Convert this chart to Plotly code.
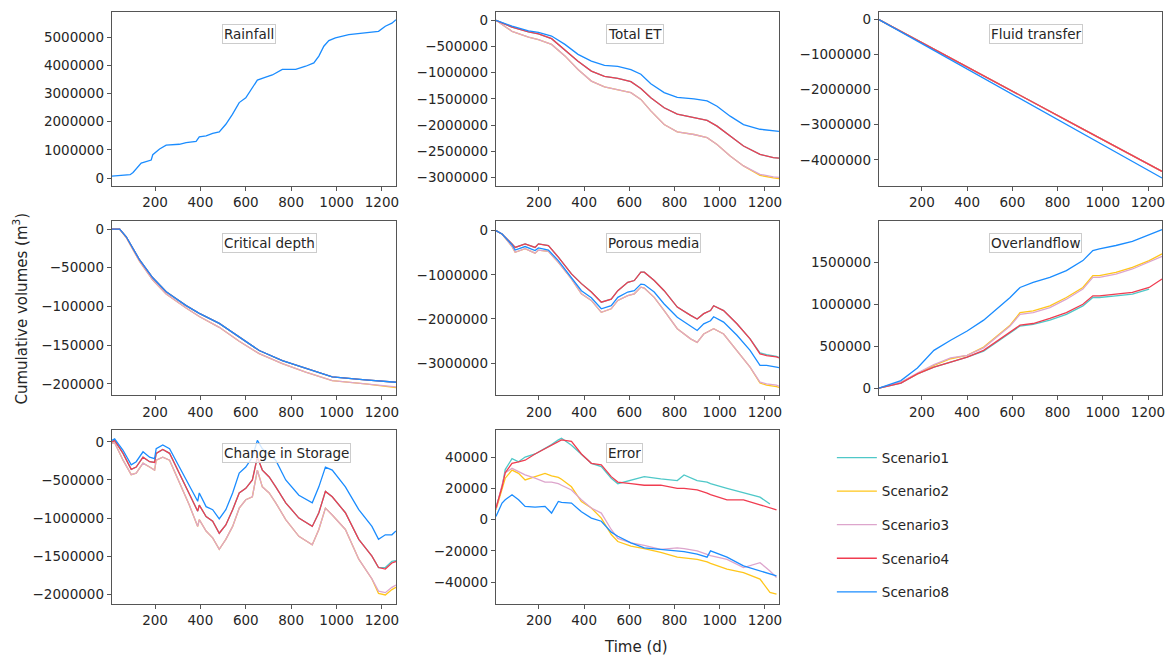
import plotly.graph_objects as go
from plotly.subplots import make_subplots

SCENARIOS = ["Scenario1", "Scenario2", "Scenario3", "Scenario4", "Scenario8"]
COLORS = {
    "Scenario1": "#4FC8C8",
    "Scenario2": "#FFC61A",
    "Scenario3": "#DDA5CC",
    "Scenario4": "#F03C50",
    "Scenario8": "#1A8CFF",
}

# ---------------- Rainfall (same forcing for every scenario) ----------------
rain_days = [10, 50, 90, 103, 139, 183, 190, 220, 249, 307, 337, 381, 395, 425, 454,
             483, 512, 541, 571, 600, 629, 651, 688, 717, 761, 820, 864, 900, 922,
             944, 966, 995, 1054, 1127, 1185, 1215, 1244, 1262]
rain_vol = [70000, 90000, 120000, 200000, 530000, 640000, 830000, 1030000, 1170000,
            1200000, 1260000, 1300000, 1460000, 1500000, 1590000, 1640000, 1910000,
            2260000, 2680000, 2850000, 3200000, 3480000, 3580000, 3660000, 3860000,
            3860000, 3970000, 4090000, 4330000, 4680000, 4880000, 4980000, 5090000,
            5150000, 5210000, 5390000, 5500000, 5620000]

# ---------------- Total ET ----------------
et_days = [10, 81, 154, 198, 256, 315, 373, 432, 490, 549, 607, 651, 695, 754, 812,
           886, 944, 988, 1046, 1105, 1178, 1237, 1262]
et_s1 = [0, -130000, -220000, -260000, -350000, -560000, -780000, -970000, -1070000,
         -1110000, -1170000, -1300000, -1480000, -1670000, -1790000, -1860000,
         -1910000, -2020000, -2210000, -2400000, -2560000, -2620000, -2630000]
et_s2 = [0, -210000, -320000, -370000, -460000, -680000, -940000, -1160000, -1270000,
         -1320000, -1380000, -1510000, -1730000, -1990000, -2130000, -2180000,
         -2240000, -2370000, -2590000, -2780000, -2960000, -3010000, -3020000]
et_s3 = [0, -210000, -320000, -370000, -460000, -680000, -940000, -1160000, -1270000,
         -1320000, -1380000, -1510000, -1730000, -1990000, -2130000, -2180000,
         -2240000, -2370000, -2590000, -2780000, -2940000, -2990000, -3000000]
et_s4 = [0, -130000, -220000, -260000, -350000, -560000, -780000, -970000, -1070000,
         -1110000, -1170000, -1300000, -1480000, -1670000, -1790000, -1860000,
         -1910000, -2020000, -2210000, -2400000, -2560000, -2620000, -2630000]
et_s8 = [0, -110000, -200000, -230000, -300000, -460000, -650000, -780000, -860000,
         -880000, -940000, -1030000, -1210000, -1380000, -1470000, -1500000,
         -1540000, -1640000, -1830000, -1990000, -2080000, -2110000, -2120000]

# ---------------- Fluid transfer ----------------
ft_days = [10, 300, 590, 900, 1262]
ft_s1 = [0, -1010000, -2000000, -3080000, -4330000]
ft_s2 = [0, -1010000, -2000000, -3080000, -4330000]
ft_s3 = [0, -1010000, -2000000, -3080000, -4330000]
ft_s4 = [0, -1010000, -2000000, -3080000, -4330000]
ft_s8 = [0, -1050000, -2090000, -3210000, -4520000]

# ---------------- Critical depth ----------------
cd_days = [10, 44, 73, 132, 190, 249, 337, 395, 483, 571, 659, 761, 864, 981, 1127, 1262]
cd_s1 = [0, 0, -10000, -40000, -63000, -81000, -99000, -109000, -122000, -139000,
         -157000, -170000, -180000, -191000, -195000, -198000]
cd_s2 = [0, 0, -11000, -42000, -66000, -84000, -102000, -113000, -127000, -145000,
         -161000, -174000, -185000, -196000, -200000, -205000]
cd_s3 = [0, 0, -11000, -42000, -66000, -84000, -102000, -113000, -127000, -145000,
         -161000, -174000, -185000, -196000, -200000, -204000]
cd_s4 = [0, 0, -10000, -40000, -63000, -81000, -99000, -109000, -122000, -139000,
         -157000, -170000, -180000, -191000, -195000, -198000]
cd_s8 = [0, 0, -10000, -40000, -63000, -81000, -99000, -109000, -122000, -139000,
         -157000, -170000, -180000, -191000, -195000, -198000]

# ---------------- Porous media ----------------
pm_days = [10, 37, 81, 95, 139, 183, 198, 242, 286, 344, 388, 432, 476, 520, 549, 593,
           622, 651, 666, 710, 754, 812, 871, 900, 929, 959, 973, 1017, 1076, 1134,
           1178, 1207, 1251, 1262]
pm_s1 = [0, -75000, -300000, -380000, -300000, -380000, -300000, -340000, -600000,
         -980000, -1200000, -1390000, -1620000, -1550000, -1360000, -1170000,
         -1130000, -940000, -940000, -1130000, -1360000, -1730000, -1920000,
         -2000000, -1880000, -1810000, -1700000, -1810000, -2110000, -2450000,
         -2770000, -2810000, -2850000, -2870000]
pm_s2 = [0, -80000, -360000, -490000, -410000, -510000, -440000, -470000, -720000,
         -1090000, -1430000, -1580000, -1850000, -1770000, -1580000, -1470000,
         -1430000, -1280000, -1300000, -1510000, -1810000, -2220000, -2450000,
         -2530000, -2340000, -2260000, -2220000, -2340000, -2710000, -3090000,
         -3450000, -3500000, -3530000, -3550000]
pm_s3 = [0, -80000, -360000, -490000, -410000, -510000, -440000, -470000, -720000,
         -1090000, -1430000, -1580000, -1850000, -1770000, -1580000, -1470000,
         -1430000, -1280000, -1300000, -1510000, -1810000, -2220000, -2450000,
         -2530000, -2340000, -2260000, -2220000, -2340000, -2710000, -3090000,
         -3430000, -3470000, -3500000, -3520000]
pm_s4 = [0, -75000, -300000, -380000, -300000, -380000, -300000, -340000, -600000,
         -980000, -1200000, -1390000, -1620000, -1550000, -1360000, -1170000,
         -1130000, -940000, -940000, -1130000, -1360000, -1730000, -1920000,
         -2000000, -1880000, -1810000, -1700000, -1810000, -2110000, -2450000,
         -2790000, -2830000, -2860000, -2880000]
pm_s8 = [0, -75000, -320000, -440000, -360000, -450000, -390000, -440000, -680000,
         -1060000, -1360000, -1520000, -1770000, -1700000, -1510000, -1390000,
         -1360000, -1210000, -1220000, -1390000, -1660000, -1960000, -2150000,
         -2260000, -2110000, -2040000, -1950000, -2070000, -2370000, -2710000,
         -3050000, -3050000, -3090000, -3100000]

# ---------------- Overland flow ----------------
of_days = [10, 107, 180, 253, 327, 400, 473, 546, 590, 634, 692, 766, 839, 912, 956,
           985, 1058, 1131, 1205, 1262]
of_s1 = [0, 60000, 170000, 250000, 310000, 370000, 440000, 580000, 660000, 740000,
         760000, 810000, 880000, 980000, 1080000, 1080000, 1100000, 1120000, 1180000,
         None]
of_s2 = [0, 70000, 170000, 270000, 350000, 390000, 490000, 650000, 750000, 900000,
         920000, 980000, 1080000, 1200000, 1340000, 1340000, 1380000, 1440000,
         1520000, 1600000]
of_s3 = [0, 70000, 180000, 280000, 360000, 390000, 480000, 640000, 740000, 880000,
         900000, 960000, 1060000, 1180000, 1320000, 1320000, 1360000, 1420000,
         1500000, 1570000]
of_s4 = [0, 60000, 170000, 250000, 310000, 370000, 450000, 590000, 670000, 750000,
         770000, 830000, 900000, 1000000, 1100000, 1100000, 1120000, 1140000,
         1200000, 1300000]
of_s8 = [0, 90000, 240000, 450000, 570000, 680000, 810000, 980000, 1080000, 1200000,
         1260000, 1320000, 1400000, 1520000, 1640000, 1660000, 1700000, 1750000,
         1830000, 1890000]

# ---------------- Change in storage ----------------
cs_days = [10, 22, 59, 95, 117, 147, 176, 198, 205, 234, 264, 307, 351, 388, 395, 425,
           454, 483, 512, 542, 571, 600, 629, 651, 673, 703, 732, 776, 834, 893, 922,
           951, 981, 1039, 1098, 1156, 1185, 1215, 1244, 1262]
cs_s1 = [0, 20000, -150000, -360000, -330000, -200000, -260000, -270000, -150000,
         -100000, -150000, -410000, -670000, -910000, -830000, -980000, -1040000,
         -1200000, -1090000, -890000, -670000, -610000, -500000, -200000, -370000,
         -460000, -590000, -800000, -1000000, -1110000, -930000, -650000, -720000,
         -930000, -1280000, -1500000, -1650000, -1650000, -1570000, -1560000]
cs_s2 = [-20000, -10000, -240000, -430000, -410000, -280000, -330000, -370000,
         -240000, -200000, -240000, -520000, -830000, -1110000, -1020000, -1170000,
         -1260000, -1410000, -1280000, -1110000, -870000, -760000, -720000, -370000,
         -590000, -670000, -800000, -1020000, -1240000, -1350000, -1150000, -870000,
         -960000, -1150000, -1540000, -1800000, -1990000, -2010000, -1940000, -1910000]
cs_s3 = [-20000, -10000, -240000, -430000, -410000, -280000, -330000, -370000,
         -240000, -200000, -240000, -520000, -830000, -1110000, -1020000, -1170000,
         -1260000, -1410000, -1280000, -1110000, -870000, -760000, -720000, -370000,
         -590000, -670000, -800000, -1020000, -1240000, -1350000, -1150000, -870000,
         -960000, -1150000, -1540000, -1800000, -1960000, -1980000, -1910000, -1880000]
cs_s4 = [0, 20000, -150000, -360000, -330000, -200000, -260000, -270000, -150000,
         -100000, -150000, -410000, -670000, -910000, -830000, -980000, -1040000,
         -1200000, -1090000, -890000, -670000, -610000, -500000, -200000, -370000,
         -460000, -590000, -800000, -1000000, -1110000, -930000, -650000, -720000,
         -930000, -1280000, -1500000, -1650000, -1670000, -1590000, -1570000]
cs_s8 = [20000, 40000, -110000, -300000, -260000, -130000, -200000, -220000, -90000,
         -40000, -90000, -330000, -570000, -780000, -670000, -850000, -890000,
         -1010000, -890000, -670000, -410000, -330000, -200000, 20000, -90000,
         -170000, -240000, -500000, -700000, -800000, -590000, -330000, -370000,
         -590000, -890000, -1110000, -1280000, -1220000, -1220000, -1170000]

# ---------------- Error ----------------
er_days = [10, 37, 51, 81, 110, 139, 183, 227, 256, 286, 300, 344, 388, 432, 476, 520,
           549, 607, 666, 739, 812, 842, 900, 944, 959, 1032, 1105, 1178, 1222, 1251]
er_s1 = [7400, 21000, 32000, 39000, 37000, 40000, 42000, 45500, 48000, 51000, 52000,
         47600, 42000, 36000, 33900, 26500, 23000, 25000, 27500, 26000, 25000, 28600,
         25000, 24000, 23000, 20000, 17000, 14400, 10000, None]
er_s2 = [6300, 19000, 26500, 31700, 29600, 25400, 27500, 29500, 28000, 27000, 25800,
         21000, 11600, 7400, 1000, -9500, -14000, -17000, -18600, -21000, -24000,
         -24500, -25400, -27000, -28000, -31700, -33900, -38000, -46600, -47600]
er_s3 = [6800, 21000, 30000, 32800, 30700, 28600, 26500, 24000, 24000, 23000, 22000,
         19000, 12700, 7400, 4200, -6300, -12000, -14800, -16500, -19000, -18000,
         -18500, -20000, -22000, -23000, -25400, -30700, -27500, -32800, -37000]
er_s4 = [7400, 21000, 30000, 36000, 37000, 38000, 42000, 45500, 47500, 50000, 51000,
         50000, 42000, 36000, 35000, 27500, 24000, 23000, 22000, 22000, 20000, 20000,
         19000, 17000, 16000, 12700, 12700, 9500, 7500, 6300]
er_s8 = [2000, 10600, 12700, 15900, 12700, 8500, 8000, 8500, 4200, 11600, 11000,
         10600, 5000, 1000, -1000, -8000, -10600, -14800, -18000, -19000, -20000,
         -20500, -22000, -24000, -20000, -24000, -29600, -32800, -35000, -36000]


def tick_labels(values):
    return [("\u2212" + str(-v)) if v < 0 else str(v) for v in values]


# rainfall is identical for all runs, so only the last-drawn curve is shown
panels = [
    ("Rainfall", 1, 1, rain_days, [None, None, None, None, rain_vol],
     [-271000, 5896000], [0, 1000000, 2000000, 3000000, 4000000, 5000000]),
    ("Total ET", 1, 2, et_days, [et_s1, et_s2, et_s3, et_s4, et_s8],
     [-3158000, 159000], [0, -500000, -1000000, -1500000, -2000000, -2500000, -3000000]),
    ("Fluid transfer", 1, 3, ft_days, [ft_s1, ft_s2, ft_s3, ft_s4, ft_s8],
     [-4740000, 218000], [0, -1000000, -2000000, -3000000, -4000000]),
    ("Critical depth", 2, 1, cd_days, [cd_s1, cd_s2, cd_s3, cd_s4, cd_s8],
     [-215000, 10800], [0, -50000, -100000, -150000, -200000]),
    ("Porous media", 2, 2, pm_days, [pm_s1, pm_s2, pm_s3, pm_s4, pm_s8],
     [-3731000, 226000], [0, -1000000, -2000000, -3000000]),
    ("Overlandflow", 2, 3, of_days, [of_s1, of_s2, of_s3, of_s4, of_s8],
     [-87000, 1996000], [0, 500000, 1000000, 1500000]),
    ("Change in Storage", 3, 1, cs_days, [cs_s1, cs_s2, cs_s3, cs_s4, cs_s8],
     [-2130000, 152000], [0, -500000, -1000000, -1500000, -2000000]),
    ("Error", 3, 2, er_days, [er_s1, er_s2, er_s3, er_s4, er_s8],
     [-54000, 57100], [-40000, -20000, 0, 20000, 40000]),
]

W, H = 1171, 657
col_px = {1: (112, 397), 2: (497, 781), 3: (881, 1165)}
row_px = {1: (11, 185), 2: (220, 395), 3: (430, 604)}

FONT = "DejaVu Sans"
TXT = "#262626"
AX = "#555555"

fig = make_subplots(rows=3, cols=3)

for title, r, c, days, series, yr, yt in panels:
    for name, ys in zip(SCENARIOS, series):
        if ys is None:
            continue
        fig.add_trace(
            go.Scatter(
                x=days, y=ys, mode="lines", name=name, legendgroup=name,
                showlegend=(title == "Total ET"),
                line=dict(color=COLORS[name], width=1.3),
            ),
            row=r, col=c,
        )
    idx = (r - 1) * 3 + c
    xa = "xaxis" if idx == 1 else f"xaxis{idx}"
    ya = "yaxis" if idx == 1 else f"yaxis{idx}"
    x0, x1 = col_px[c]
    y0, y1 = row_px[r]
    fig.layout[xa].update(
        domain=[x0 / W, x1 / W], range=[9, 1262],
        tickvals=[200, 400, 600, 800, 1000, 1200],
    )
    fig.layout[ya].update(
        domain=[1 - y1 / H, 1 - y0 / H], range=yr,
        tickvals=yt, ticktext=tick_labels(yt),
    )
    xref = "x domain" if idx == 1 else f"x{idx} domain"
    yref = "y domain" if idx == 1 else f"y{idx} domain"
    fig.add_annotation(
        text=title, xref=xref, yref=yref, x=0.389, y=0.872,
        xanchor="left", yanchor="middle", showarrow=False,
        font=dict(family=FONT, size=13.5, color=TXT),
        bgcolor="rgba(255,255,255,0.8)", bordercolor="#cccccc",
        borderwidth=1, borderpad=1,
    )

fig.update_xaxes(
    showline=True, mirror=True, linecolor=AX, linewidth=1,
    ticks="outside", ticklen=4, tickcolor=AX, showgrid=False, zeroline=False,
    tickfont=dict(family=FONT, size=13.5, color=TXT),
)
fig.update_yaxes(
    showline=True, mirror=True, linecolor=AX, linewidth=1,
    ticks="outside", ticklen=4, tickcolor=AX, showgrid=False, zeroline=False,
    tickfont=dict(family=FONT, size=13.5, color=TXT),
)
# empty ninth cell holds the legend
fig.layout["xaxis9"].update(visible=False, domain=[881 / W, 1165 / W])
fig.layout["yaxis9"].update(visible=False, domain=[1 - 604 / H, 1 - 430 / H])

fig.add_annotation(
    text="Cumulative volumes (m<sup>3</sup>)", xref="paper", yref="paper",
    x=20 / W, y=1 - 308 / H, textangle=-90, showarrow=False,
    xanchor="center", yanchor="middle",
    font=dict(family=FONT, size=15, color=TXT),
)
fig.add_annotation(
    text="Time (d)", xref="paper", yref="paper",
    x=638 / W, y=1 - 647 / H, showarrow=False,
    xanchor="center", yanchor="middle",
    font=dict(family=FONT, size=15, color=TXT),
)

fig.update_layout(
    width=W, height=H,
    margin=dict(l=0, r=0, t=0, b=0),
    paper_bgcolor="white", plot_bgcolor="white",
    showlegend=True,
    legend=dict(
        x=834 / W, y=1 - 442 / H, xanchor="left", yanchor="top",
        font=dict(family=FONT, size=13.5, color=TXT),
        bgcolor="rgba(0,0,0,0)", tracegroupgap=13, itemwidth=40,
    ),
)

fig.write_html("out.html")
